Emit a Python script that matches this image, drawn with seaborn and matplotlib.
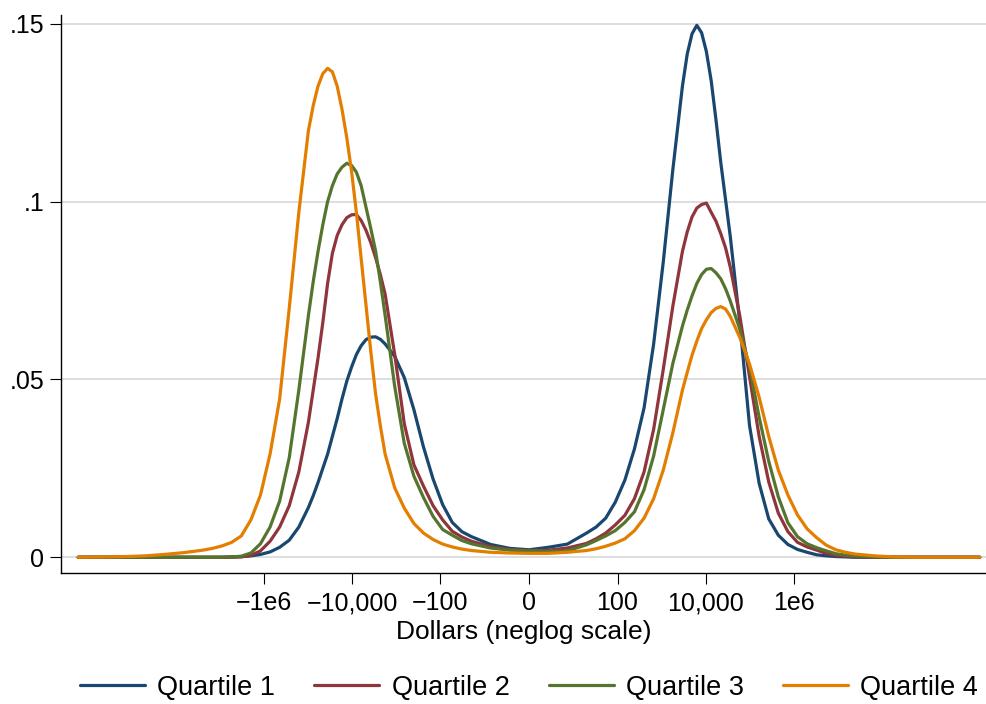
import numpy as np
import pandas as pd
import matplotlib
matplotlib.use("Agg")
import matplotlib.pyplot as plt
import seaborn as sns

# x positions on the neglog scale: sign(x) * ln(1 + |x|)
neglog_x = [-23.5, -22, -21, -20, -19, -18, -17,
            -16.5, -16, -15.5, -15, -14.5, -14, -13.5, -13, -12.5, -12, -11.5, -11.25, -11,
            -10.75, -10.5, -10.25, -10, -9.75, -9.5, -9.25, -9, -8.75, -8.5, -8.25, -8, -7.75, -7.5,
            -7, -6.5, -6, -5.5, -5, -4.5, -4, -3.5, -3,
            -2, -1, 0, 1, 2,
            3, 3.5, 4, 4.5, 5, 5.5, 6, 6.5, 7, 7.5, 8,
            8.25, 8.5, 8.75, 9, 9.25, 9.5, 9.75, 10, 10.25, 10.5,
            11, 11.5, 12, 12.5, 13, 13.5, 14, 14.5, 15, 15.5, 16, 16.5,
            17, 18, 19, 20, 21, 22, 23.5]

# estimated density of each quartile
q1 = [0, 0, 0, 0, 0, 0, 0,
      0, 0, 0.0001, 0.0002, 0.0004, 0.0008, 0.0015, 0.0028, 0.0048, 0.0085, 0.014, 0.0173, 0.021,
      0.025, 0.029, 0.034, 0.039, 0.0445, 0.0495, 0.0535, 0.057, 0.0595, 0.0612, 0.0619, 0.062, 0.0613, 0.060,
      0.0565, 0.0505, 0.0415, 0.031, 0.022, 0.0148, 0.0098, 0.0072, 0.0058,
      0.0036, 0.0025, 0.0021, 0.0028, 0.0037,
      0.0068, 0.0085, 0.011, 0.0155, 0.0217, 0.0305, 0.042, 0.060, 0.083, 0.109, 0.1325,
      0.1415, 0.1472, 0.1496, 0.1475, 0.1422, 0.134, 0.123, 0.111, 0.1005, 0.090,
      0.0655, 0.037, 0.0208, 0.0108, 0.0062, 0.0036, 0.0022, 0.0014, 0.0007, 0.0004, 0.0002, 0.0001,
      0, 0, 0, 0, 0, 0, 0]

q2 = [0, 0, 0, 0, 0, 0, 0,
      0, 0, 0, 0.0001, 0.0005, 0.0018, 0.0045, 0.0085, 0.0145, 0.024, 0.038, 0.047, 0.056,
      0.066, 0.077, 0.0855, 0.0905, 0.0935, 0.0955, 0.0963, 0.0964, 0.0947, 0.092, 0.0885, 0.0843, 0.0795, 0.074,
      0.057, 0.0375, 0.026, 0.020, 0.0145, 0.0105, 0.0073, 0.0057, 0.0045,
      0.003, 0.0022, 0.0019, 0.002, 0.0026,
      0.0039, 0.0052, 0.0068, 0.0091, 0.0118, 0.0165, 0.024, 0.036, 0.0528, 0.0706, 0.086,
      0.0915, 0.0957, 0.0982, 0.0992, 0.0996, 0.097, 0.0945, 0.091, 0.087, 0.0815,
      0.0676, 0.0507, 0.034, 0.0212, 0.0124, 0.0072, 0.0042, 0.0029, 0.002, 0.0011, 0.0005, 0.0003,
      0.0001, 0, 0, 0, 0, 0, 0]

q3 = [0, 0, 0, 0, 0, 0, 0,
      0, 0, 0.0001, 0.0003, 0.0012, 0.0038, 0.0085, 0.0158, 0.028, 0.047, 0.068, 0.0775, 0.086,
      0.0935, 0.1, 0.1045, 0.1078, 0.1097, 0.1108, 0.1102, 0.1083, 0.1045, 0.0985, 0.0925, 0.0862, 0.0775, 0.068,
      0.048, 0.032, 0.0228, 0.0168, 0.0115, 0.0078, 0.0062, 0.0047, 0.0038,
      0.0026, 0.002, 0.0018, 0.0017, 0.0018,
      0.0035, 0.0047, 0.006, 0.0075, 0.0098, 0.0128, 0.019, 0.0285, 0.0415, 0.0545, 0.065,
      0.0695, 0.0735, 0.077, 0.0795, 0.081, 0.0812, 0.080, 0.0783, 0.0755, 0.072,
      0.064, 0.0535, 0.0394, 0.027, 0.017, 0.0097, 0.0058, 0.0038, 0.0027, 0.0018, 0.001, 0.0006,
      0.0003, 0.0001, 0, 0, 0, 0, 0]

q4 = [0, 0.0001, 0.0002, 0.0004, 0.0008, 0.0013, 0.002,
      0.0025, 0.0032, 0.0042, 0.006, 0.0105, 0.0175, 0.029, 0.0445, 0.070, 0.097, 0.12, 0.127, 0.1325,
      0.136, 0.1375, 0.1365, 0.1325, 0.126, 0.118, 0.1085, 0.097, 0.084, 0.071, 0.058, 0.046, 0.037, 0.029,
      0.0195, 0.0138, 0.0095, 0.0068, 0.005, 0.0037, 0.0029, 0.0023, 0.0019,
      0.0014, 0.0012, 0.0011, 0.0011, 0.0014,
      0.0019, 0.0024, 0.0031, 0.004, 0.0052, 0.0075, 0.011, 0.0165, 0.0245, 0.035, 0.047,
      0.052, 0.0568, 0.0608, 0.0643, 0.0668, 0.0688, 0.070, 0.0705, 0.0698, 0.0677,
      0.0617, 0.0543, 0.045, 0.034, 0.0245, 0.0175, 0.0119, 0.008, 0.0055, 0.0034, 0.0021, 0.0014,
      0.0009, 0.0004, 0.0001, 0, 0, 0, 0]

labels = ["Quartile 1", "Quartile 2", "Quartile 3", "Quartile 4"]
colors = ["#1a476f", "#90353b", "#55752f", "#e37e00"]

tick_dollars = [-1e6, -1e4, -100, 0, 100, 1e4, 1e6]
tick_labels = ["\u22121e6", "\u221210,000", "\u2212100", "0", "100", "10,000", "1e6"]
y_ticks = [0, 0.05, 0.1, 0.15]
y_labels = ["0", ".05", ".1", ".15"]

df = pd.concat([pd.DataFrame({"neglog": neglog_x, "density": q, "group": lab})
                for q, lab in zip([q1, q2, q3, q4], labels)], ignore_index=True)

sns.set_style("white")
plt.rcParams["font.family"] = ["Liberation Sans", "DejaVu Sans"]
plt.rcParams["text.color"] = "black"
plt.rcParams["axes.labelcolor"] = "black"

fig = plt.figure(figsize=(9.87, 7.04), dpi=100)
ax = fig.add_axes([0.0618, 0.1857, 0.9382, 0.793])

sns.lineplot(data=df, x="neglog", y="density", hue="group", palette=colors,
             linewidth=2.3, ax=ax, sort=True)

ax.set_xlim(-24.4, 23.88)
ax.set_ylim(-0.0045, 0.1525)

tick_pos = [np.sign(d) * np.log1p(abs(d)) for d in tick_dollars]
ax.set_xticks(tick_pos)
ax.set_xticklabels(tick_labels)
ax.set_yticks(y_ticks)
ax.set_yticklabels(y_labels)
ax.tick_params(axis="both", direction="out", length=8, width=0.8, color="black",
               labelsize=18, labelcolor="black", bottom=True, left=True)
ax.tick_params(axis="x", pad=5)
ax.tick_params(axis="y", pad=4)

ax.yaxis.grid(True, color="#dedede", linewidth=1.4)
ax.xaxis.grid(False)
ax.set_axisbelow(True)

for side in ["top", "right"]:
    ax.spines[side].set_visible(False)
for side in ["left", "bottom"]:
    ax.spines[side].set_color("black")
    ax.spines[side].set_linewidth(1.0)

ax.set_xlabel("Dollars (neglog scale)", fontsize=19, labelpad=3.5)
ax.set_ylabel("")

handles, labs = ax.get_legend_handles_labels()
ax.get_legend().remove()
fig.legend(handles, labs, loc="center", bbox_to_anchor=(0.536, 0.023), ncol=4,
           frameon=False, fontsize=19.5, handlelength=2.4, handletextpad=0.45,
           columnspacing=1.45)

fig.savefig("out.png", dpi=100)
